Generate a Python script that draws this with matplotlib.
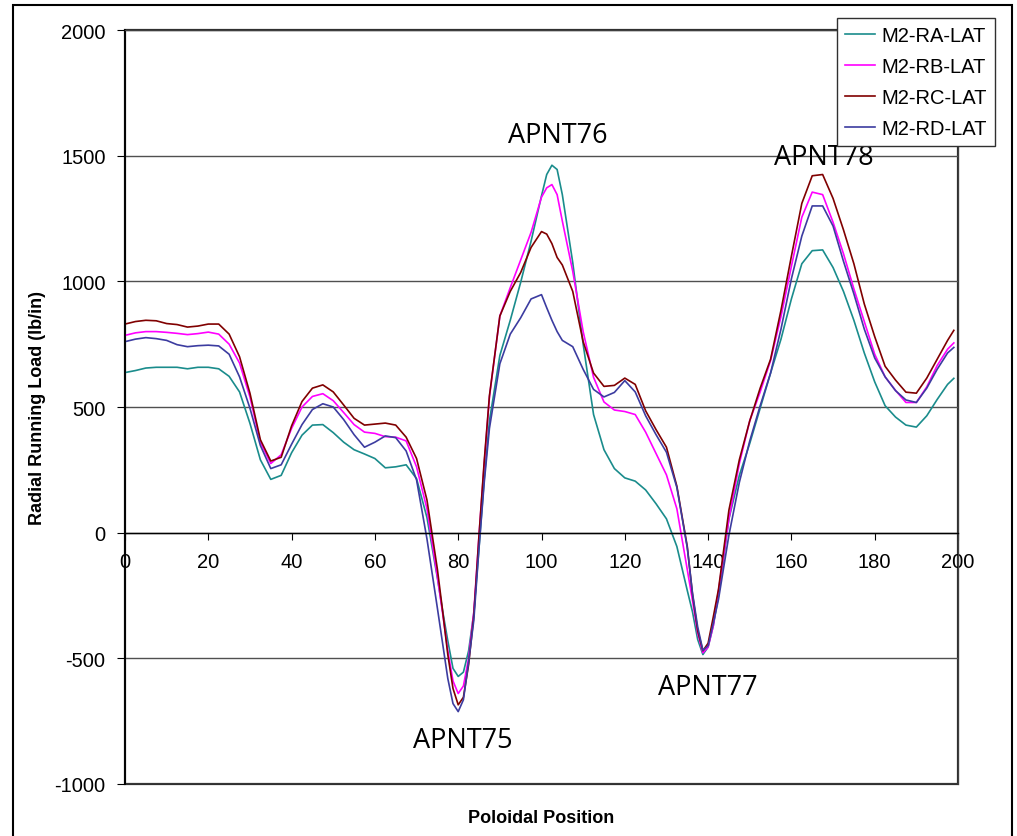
import numpy as np
import matplotlib
matplotlib.use('Agg')
import matplotlib.pyplot as plt
from matplotlib.patches import Rectangle

plt.rcParams['font.family'] = ['Liberation Sans', 'DejaVu Sans']
plt.rcParams['axes.unicode_minus'] = False

# poloidal positions the curves were read at (denser around the peaks/valleys)
position = [0, 2.5, 5, 7.5, 10, 12.5, 15, 17.5, 20, 22.5, 25, 27.5, 30, 32.5, 35, 37.5,
            40, 42.5, 45, 47.5, 50, 52.5, 55, 57.5, 60, 62.5, 65, 67.5, 70, 72.5,
            75, 76.25, 77.5, 78.75, 80, 81.25, 82.5, 83.75, 85, 86.25, 87.5,
            90, 92.5, 95, 97.5,
            100, 101.25, 102.5, 103.75,
            105, 107.5, 110, 112.5, 115, 117.5, 120, 122.5, 125, 127.5, 130, 132.5,
            135, 136.25, 137.5, 138.75, 140, 141.25, 142.5,
            145, 147.5, 150, 152.5, 155, 157.5, 160, 162.5, 165, 167.5, 170, 172.5, 175,
            177.5, 180, 182.5, 185, 187.5, 190, 192.5, 195, 197.5, 199]

ra_lat = [637, 645, 655, 658, 658, 658, 652, 658, 658, 652, 622, 560, 435, 290, 212, 228,
          318, 388, 428, 430, 398, 360, 330, 313, 295, 258, 262, 270, 215, 60,
          -180, -310, -430, -540, -572, -555, -470, -320, -60, 215, 445,
          705, 845, 996, 1160,
          1340, 1425, 1462, 1445,
          1345, 1075, 750, 470, 330, 255, 218, 205, 170, 115, 55, -55,
          -230, -315, -425, -485, -455, -370, -250,
          55, 228, 355, 495, 635, 770, 930, 1070, 1122, 1125, 1055, 960, 845,
          715, 600, 505, 460, 428, 420, 465, 530, 590, 614]

rb_lat = [785, 795, 800, 800, 797, 793, 788, 792, 798, 790, 750, 675, 540, 360, 275, 310,
          415, 500, 542, 553, 525, 478, 430, 400, 395, 382, 380, 365, 262, 95,
          -175, -320, -470, -590, -640, -610, -500, -315, -10, 275, 540,
          862, 975, 1085, 1195,
          1335, 1372, 1385, 1345,
          1240, 1040, 800, 618, 520, 488, 482, 470, 400, 315, 230, 95,
          -147, -270, -400, -478, -455, -370, -230,
          55, 275, 445, 560, 685, 860, 1060, 1255, 1355, 1345, 1235, 1110, 970,
          840, 710, 620, 566, 518, 518, 580, 665, 730, 755]

rc_lat = [830, 840, 845, 843, 832, 828, 818, 822, 830, 830, 790, 700, 555, 370, 285, 300,
          425, 522, 575, 588, 560, 508, 455, 428, 432, 436, 428, 380, 295, 130,
          -145, -310, -485, -620, -685, -655, -525, -330, -10, 285, 545,
          862, 960, 1035, 1135,
          1198, 1188, 1150, 1095,
          1065, 960, 760, 635, 582, 586, 615, 590, 485, 410, 340, 185,
          -55, -245, -390, -470, -440, -335, -225,
          90, 290, 445, 575, 690, 885, 1100, 1310, 1420, 1425, 1330, 1205, 1070,
          910, 780, 662, 607, 559, 555, 615, 690, 765, 805]

rd_lat = [760, 770, 776, 772, 765, 748, 740, 744, 746, 743, 710, 620, 495, 347, 255, 270,
          352, 430, 490, 513, 500, 450, 390, 340, 360, 385, 378, 325, 210, -25,
          -300, -440, -580, -680, -712, -665, -515, -348, -60, 200, 415,
          672, 790, 855, 930,
          947, 895, 845, 800,
          765, 740, 650, 570, 540, 558, 605, 560, 465, 390, 320, 180,
          -60, -240, -375, -468, -450, -360, -265,
          -10, 200, 365, 505, 635, 810, 1010, 1180, 1300, 1300, 1220, 1080, 950,
          810, 695, 620, 565, 528, 518, 575, 650, 715, 737]

series_names = ['M2-RA-LAT', 'M2-RB-LAT', 'M2-RC-LAT', 'M2-RD-LAT']
series_colors = ['#1a8c8c', '#ff00ff', '#800000', '#3c3ca0']
peak_labels = ['APNT75', 'APNT76', 'APNT77', 'APNT78']

fig = plt.figure(figsize=(10.17, 8.37), dpi=100)
ax = fig.add_axes([125 / 1017, 1 - 785 / 837, 833 / 1017, 754 / 837])

for vals, name, col in zip([ra_lat, rb_lat, rc_lat, rd_lat], series_names, series_colors):
    ax.plot(position, vals, color=col, lw=1.2, label=name)

ax.set_xlim(0, 200)
ax.set_ylim(-1000, 2000)
ax.set_xticks(np.arange(0, 201, 20))
ax.set_yticks(np.arange(-1000, 2001, 500))

# x axis sits on the zero line, plot area keeps a frame
ax.spines['bottom'].set_position(('data', 0))
for s in ['top', 'right']:
    ax.spines[s].set_color('#404040')
ax.spines['left'].set_linewidth(1.3)
ax.spines['bottom'].set_linewidth(1.0)
ax.patch.set_edgecolor('#303030')
ax.patch.set_linewidth(1.6)
ax.yaxis.grid(True, color='#505050', lw=1.0)
ax.set_axisbelow(True)

ax.tick_params(axis='y', direction='out', length=6, pad=8, labelsize=14.5)
ax.tick_params(axis='x', direction='out', length=5, pad=9, labelsize=14.5)

ax.set_xlabel('Poloidal Position', fontsize=13, fontweight='bold')
ax.xaxis.set_label_coords(0.5, -0.033)
ax.set_ylabel('Radial Running Load (lb/in)', fontsize=13, fontweight='bold')
ax.yaxis.set_label_coords(-0.095, 0.5)

# peak / valley callouts
for lab, (px, py) in zip(peak_labels, [(81.2, -826), (104, 1584), (140, -613), (167.8, 1496)]):
    ax.text(px, py, lab, family='Open Sans', fontsize=19.5, ha='center', va='center')

leg = ax.legend(loc='upper left', bbox_to_anchor=(837 / 1017, 1 - 19 / 837),
                bbox_transform=fig.transFigure, borderaxespad=0, fontsize=14.5,
                fancybox=False, framealpha=1, edgecolor='#303030',
                handlelength=1.5, handletextpad=0.3, labelspacing=0.6, borderpad=0.4)
leg.get_frame().set_linewidth(1.0)

fig.patches.append(Rectangle((13 / 1017, -0.05), 999 / 1017, 1.05 - 6 / 837,
                             transform=fig.transFigure, fill=False, lw=1.5,
                             edgecolor='black'))

fig.savefig('out.png', dpi=100)
